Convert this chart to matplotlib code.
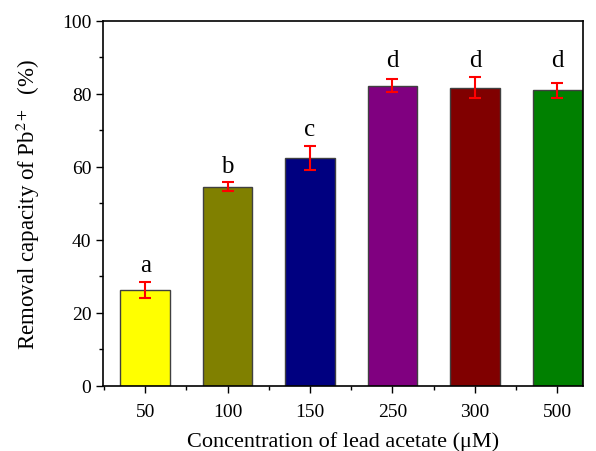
import matplotlib.pyplot as plt
from matplotlib.ticker import MultipleLocator, FixedLocator

concentrations = ["50", "100", "150", "250", "300", "500"]
removal = [26.3, 54.5, 62.4, 82.2, 81.7, 80.9]
errors = [2.2, 1.2, 3.2, 1.7, 2.9, 2.0]
letters = ["a", "b", "c", "d", "d", "d"]
colors = ["#FFFF00", "#808000", "#000080", "#800080", "#800000", "#008000"]

plt.rcParams['font.family'] = ['Liberation Serif', 'DejaVu Serif']
plt.rcParams['mathtext.fontset'] = 'stix'

fig = plt.figure(figsize=(5.96, 4.52), dpi=100)
ax = fig.add_axes([0.173, 0.144, 0.805, 0.808])

x = list(range(len(concentrations)))
ax.bar(x, removal, width=0.6, color=colors, edgecolor="#404040", linewidth=1.0, zorder=2)
ax.errorbar(x, removal, yerr=errors, fmt="none", ecolor="red", elinewidth=1.5,
            capsize=4, capthick=1.5, zorder=3)

# letters sit above the error bars; same letter group shares a height
tops = [v + e for v, e in zip(removal, errors)]
for xi, s in zip(x, letters):
    h = max(t for t, l in zip(tops, letters) if l == s)
    ax.text(xi, h + 3.0, s, ha="center", va="baseline", fontsize=18)

ax.set_xlim(-0.51, 5.31)
ax.set_ylim(0, 100)
ax.set_xticks(x)
ax.set_xticklabels(concentrations)
ax.xaxis.set_minor_locator(FixedLocator([i + 0.5 for i in range(-1, 6)]))
ax.yaxis.set_major_locator(MultipleLocator(20))
ax.yaxis.set_minor_locator(MultipleLocator(10))
ax.tick_params(which="both", direction="out", labelsize=14, width=1)
ax.tick_params(which="major", length=5)
ax.tick_params(which="minor", length=3)
ax.tick_params(axis="x", pad=7)
for sp in ax.spines.values():
    sp.set_linewidth(1.2)

ax.set_xlabel("Concentration of lead acetate (μM)", fontsize=16, labelpad=8)
ax.set_ylabel("Removal capacity of Pb$^{2+}$  (%)", fontsize=16.5, labelpad=14)

fig.savefig("out.png", dpi=100)
